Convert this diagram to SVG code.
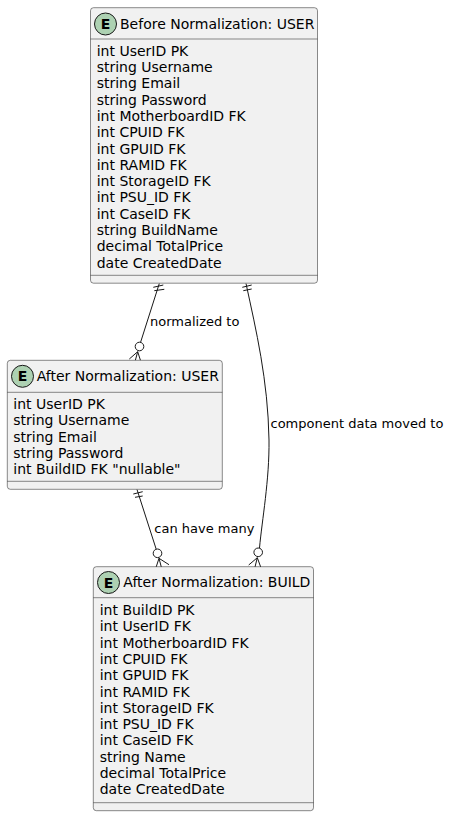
<svg xmlns="http://www.w3.org/2000/svg" width="449" height="816" viewBox="0 0 449 816">
<style>
text{font-family:"DejaVu Sans",sans-serif;fill:#000}
.t{font-size:14px}
.r{font-size:14px}
.l{font-size:13px}
.b{fill:#F1F1F1;stroke:#181818;stroke-width:.5}
.d{stroke:#181818;stroke-width:.5;fill:none}
.c{fill:#ADD1B2;stroke:#181818;stroke-width:1}
.e{font-size:14px;font-weight:bold;text-anchor:middle}
.k{fill:none;stroke:#181818;stroke-width:1}
.o{fill:#fff;stroke:#181818;stroke-width:1}
</style>
<g id="connectors">
<path class="k" d="M159.300 283.500L140.500 342.500"/><path class="k" d="M153.300 287.300L163.300 285M154.300 290.700L164.300 289.300"/><circle class="o" cx="139.500" cy="346.500" r="4.300"/><path class="k" d="M129.300 359L137.700 351.700L135.300 360.500M137.700 351.700L140.500 360.500"/>
<path class="k" d="M246 283.500C256 330 268 380 269 440C269.500 480 262 520 259.500 548"/><path class="k" d="M242.300 287.300L251.700 285M243.300 290.700L251.700 289"/><circle class="o" cx="258.200" cy="552.300" r="4.300"/><path class="k" d="M248.700 565L257.300 557.700L255 567M257.300 557.700L260.700 567"/>
<path class="k" d="M137 489.500L156.200 549.200"/><path class="k" d="M133.300 494L142.700 491.700M135 497.300L142.700 496"/><circle class="o" cx="157.500" cy="553.300" r="4.300"/><path class="k" d="M156 567.500L159 558.300L161.300 567M159 558.300L169 564.700"/>
</g>
<g id="label-normalized"><text class="l" x="150" y="325.700">normalized to</text></g>
<g id="label-moved"><text class="l" x="270.500" y="428">component data moved to</text></g>
<g id="label-many"><text class="l" x="154.300" y="532.700">can have many</text></g>
<g id="before">
<rect class="b" x="90.500" y="7.700" width="227" height="275.500" rx="3"/>
<path class="d" d="M90.500 39H317.500M90.500 275.300H317.500"/>
<circle class="c" cx="105.500" cy="24" r="11"/><text class="e" x="105.500" y="29">E</text>
<text class="t" x="120" y="28.500">Before Normalization: USER</text>
<text class="r" x="96.700" y="55.700">int UserID PK</text><text class="r" x="96.700" y="72">string Username</text><text class="r" x="96.700" y="88.300">string Email</text><text class="r" x="96.700" y="104.600">string Password</text><text class="r" x="96.700" y="120.900">int MotherboardID FK</text><text class="r" x="96.700" y="137.200">int CPUID FK</text><text class="r" x="96.700" y="153.500">int GPUID FK</text><text class="r" x="96.700" y="169.800">int RAMID FK</text><text class="r" x="96.700" y="186.100">int StorageID FK</text><text class="r" x="96.700" y="202.400">int PSU_ID FK</text><text class="r" x="96.700" y="218.700">int CaseID FK</text><text class="r" x="96.700" y="235">string BuildName</text><text class="r" x="96.700" y="251.300">decimal TotalPrice</text><text class="r" x="96.700" y="267.600">date CreatedDate</text>
</g>
<g id="after-user">
<rect class="b" x="7.300" y="360.300" width="215" height="129" rx="3"/>
<path class="d" d="M7.300 392.300H222.300M7.300 481.300H222.300"/>
<circle class="c" cx="22.500" cy="376.300" r="11"/><text class="e" x="22.500" y="381.300">E</text>
<text class="t" x="36.700" y="381">After Normalization: USER</text>
<text class="r" x="13.300" y="409">int UserID PK</text><text class="r" x="13.300" y="425.300">string Username</text><text class="r" x="13.300" y="441.600">string Email</text><text class="r" x="13.300" y="457.900">string Password</text><text class="r" x="13.300" y="474.200">int BuildID FK "nullable"</text>
</g>
<g id="after-build">
<rect class="b" x="93.300" y="566.700" width="220.200" height="244" rx="3"/>
<path class="d" d="M93.300 597.700H313.500M93.300 802.700H313.500"/>
<circle class="c" cx="108.500" cy="582.500" r="11"/><text class="e" x="108.500" y="587.500">E</text>
<text class="t" x="123.300" y="587">After Normalization: BUILD</text>
<text class="r" x="99.700" y="615">int BuildID PK</text><text class="r" x="99.700" y="631.300">int UserID FK</text><text class="r" x="99.700" y="647.600">int MotherboardID FK</text><text class="r" x="99.700" y="663.900">int CPUID FK</text><text class="r" x="99.700" y="680.200">int GPUID FK</text><text class="r" x="99.700" y="696.500">int RAMID FK</text><text class="r" x="99.700" y="712.800">int StorageID FK</text><text class="r" x="99.700" y="729.100">int PSU_ID FK</text><text class="r" x="99.700" y="745.400">int CaseID FK</text><text class="r" x="99.700" y="761.700">string Name</text><text class="r" x="99.700" y="778">decimal TotalPrice</text><text class="r" x="99.700" y="794.300">date CreatedDate</text>
</g>
</svg>
